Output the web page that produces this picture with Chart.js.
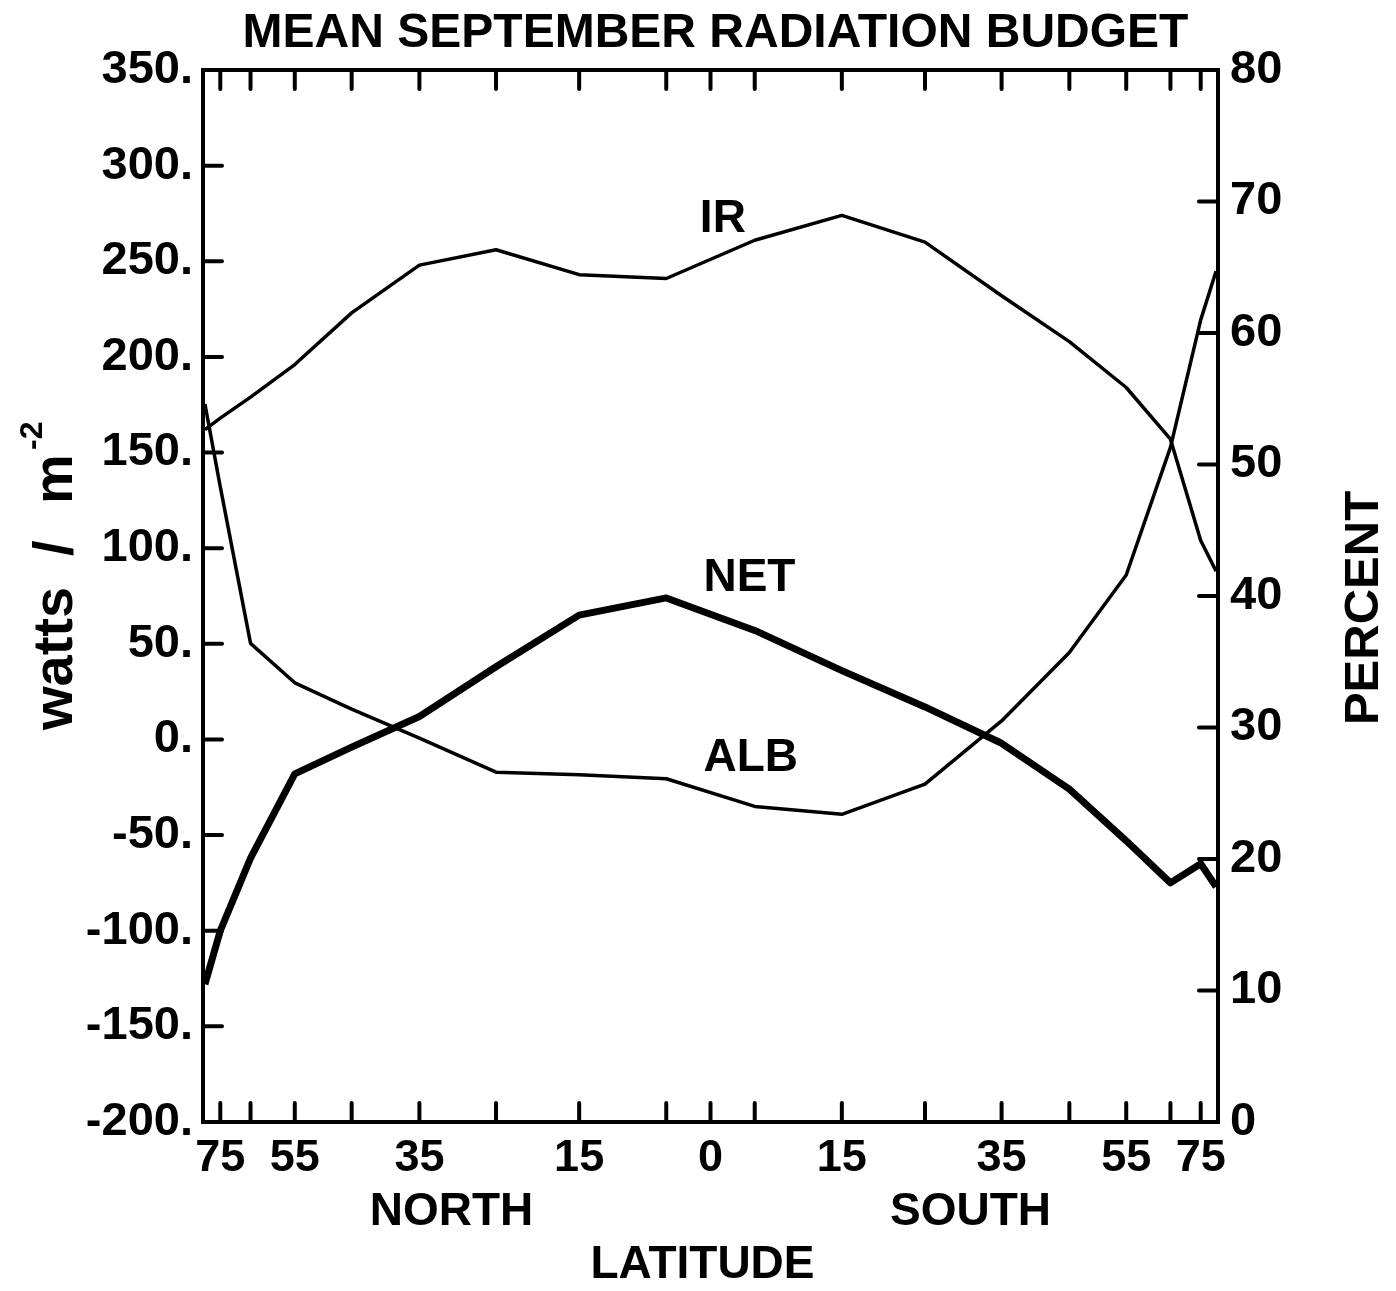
<!DOCTYPE html>
<html>
<head>
<meta charset="utf-8">
<title>Mean September Radiation Budget</title>
<script src="https://cdn.jsdelivr.net/npm/chart.js@4.4.1/dist/chart.umd.min.js"></script>
<style>
  html, body { margin: 0; padding: 0; background: #fff; }
  #chartBox { width: 1396px; height: 1291px; }
</style>
</head>
<body>
<div id="chartBox"><canvas id="radiationChart" width="1396" height="1291"></canvas></div>
<script>
const fontFamily = "'Liberation Sans', Arial, sans-serif";
const titleText = "MEAN SEPTEMBER RADIATION BUDGET";

// centres of the 10 degree latitude bands, north positive
const latitudes = [85, 75, 65, 55, 45, 35, 25, 15, 5, -5, -15, -25, -35, -45, -55, -65, -75, -85];
// outgoing infrared, watts / m^2 (left axis)
const irValues = [162, 168, 179, 196, 223, 248, 256, 243, 241, 261, 274, 260, 232, 208, 184, 157, 104, 88];
// net radiation, watts / m^2 (left axis)
const netValues = [-128, -100, -62, -18, -4, 12, 38, 65, 74, 57, 36, 17, -2, -26, -53, -75, -65, -77];
// albedo, percent (right axis)
const albedoValues = [54.6, 48.3, 36.4, 33.4, 31.4, 29.2, 26.6, 26.4, 26.1, 24.0, 23.4, 25.7, 30.5, 35.7, 41.6, 51.3, 61.0, 64.7];

const labeledLatitudes = [75, 55, 35, 15, 0, -15, -35, -55, -75];
const tickLatitudes = [75, 65, 55, 45, 35, 25, 15, 5, 0, -5, -15, -25, -35, -45, -55, -65, -75];
const wattTicks = [-150, -100, -50, 0, 50, 100, 150, 200, 250, 300];
const percentTicks = [10, 20, 30, 40, 50, 60, 70];

const curveLabels = [
  { text: "IR", lat: 1.2, watts: 272 },
  { text: "NET", lat: 0.8, watts: 84 },
  { text: "ALB", lat: 0.8, watts: -10 }
];

const tickLength = 19;

function toX(lat) {
  return Math.sin(lat * Math.PI / 180);
}

function buildPoints(values) {
  return latitudes.map((lat, index) => ({ x: toX(lat), y: values[index] }));
}

const radiationDecor = {
  id: "radiationDecor",
  afterDraw(chart) {
    const ctx = chart.ctx;
    const area = chart.chartArea;
    const xScale = chart.scales.x;
    const yScale = chart.scales.y;
    const percentScale = chart.scales.y2;
    const centerX = (area.left + area.right) / 2;

    ctx.save();
    ctx.strokeStyle = "#000";
    ctx.fillStyle = "#000";
    ctx.lineWidth = 4;
    ctx.lineCap = "round";
    ctx.strokeRect(area.left, area.top, area.right - area.left, area.bottom - area.top);

    ctx.beginPath();
    tickLatitudes.forEach((lat) => {
      const px = xScale.getPixelForValue(toX(lat));
      ctx.moveTo(px, area.top);
      ctx.lineTo(px, area.top + tickLength);
      ctx.moveTo(px, area.bottom);
      ctx.lineTo(px, area.bottom - tickLength);
    });
    wattTicks.forEach((value) => {
      const py = yScale.getPixelForValue(value);
      ctx.moveTo(area.left, py);
      ctx.lineTo(area.left + tickLength, py);
    });
    percentTicks.forEach((value) => {
      const py = percentScale.getPixelForValue(value);
      ctx.moveTo(area.right, py);
      ctx.lineTo(area.right - tickLength, py);
    });
    ctx.stroke();

    // title
    ctx.font = `bold 48px ${fontFamily}`;
    ctx.textAlign = "center";
    ctx.textBaseline = "alphabetic";
    ctx.fillText(titleText, centerX + 5, 47);

    // hemisphere and axis names
    ctx.font = `bold 46px ${fontFamily}`;
    ctx.fillText("NORTH", centerX - 259, 1225);
    ctx.fillText("SOUTH", centerX + 260, 1225);
    ctx.fillText("LATITUDE", centerX - 8, 1278);

    // curve names
    ctx.font = `bold 46px ${fontFamily}`;
    ctx.textAlign = "left";
    ctx.textBaseline = "middle";
    curveLabels.forEach((label) => {
      ctx.fillText(label.text, xScale.getPixelForValue(toX(label.lat)), yScale.getPixelForValue(label.watts));
    });

    // left axis title, reading upwards
    ctx.save();
    ctx.translate(72, 730);
    ctx.rotate(-Math.PI / 2);
    ctx.textAlign = "left";
    ctx.textBaseline = "alphabetic";
    ctx.font = `bold 56px ${fontFamily}`;
    ctx.fillText("watts", 0, 0);
    ctx.fillText("/", 174, 0);
    ctx.fillText("m", 226, 0);
    ctx.font = `bold 32px ${fontFamily}`;
    ctx.fillText("-2", 280, -30);
    ctx.restore();

    // right axis title, reading upwards
    ctx.save();
    ctx.translate(1378, 608);
    ctx.rotate(-Math.PI / 2);
    ctx.textAlign = "center";
    ctx.textBaseline = "alphabetic";
    ctx.font = `bold 49px ${fontFamily}`;
    ctx.fillText("PERCENT", 0, 0);
    ctx.restore();

    ctx.restore();
  }
};

const ctx = document.getElementById("radiationChart").getContext("2d");

new Chart(ctx, {
  type: "line",
  data: {
    datasets: [
      {
        label: "IR",
        data: buildPoints(irValues),
        yAxisID: "y",
        borderColor: "#000",
        borderWidth: 3.5,
        pointRadius: 0,
        tension: 0,
        borderJoinStyle: "round"
      },
      {
        label: "NET",
        data: buildPoints(netValues),
        yAxisID: "y",
        borderColor: "#000",
        borderWidth: 7,
        pointRadius: 0,
        tension: 0,
        borderJoinStyle: "round"
      },
      {
        label: "ALB",
        data: buildPoints(albedoValues),
        yAxisID: "y2",
        borderColor: "#000",
        borderWidth: 3.5,
        pointRadius: 0,
        tension: 0,
        borderJoinStyle: "round"
      }
    ]
  },
  options: {
    responsive: false,
    animation: false,
    layout: {
      padding: { top: 70, left: 0, right: 0, bottom: 0 }
    },
    plugins: {
      legend: { display: false },
      title: { display: false },
      tooltip: { enabled: false }
    },
    scales: {
      x: {
        type: "linear",
        min: -1,
        max: 1,
        reverse: true,
        grid: { display: false, drawTicks: false },
        border: { display: false },
        afterBuildTicks: function (scale) {
          scale.ticks = labeledLatitudes.map((lat) => ({ value: toX(lat) }));
        },
        afterFit: function (scale) {
          scale.height = 169;
        },
        ticks: {
          autoSkip: false,
          maxRotation: 0,
          padding: 10,
          color: "#000",
          font: { family: fontFamily, size: 45, weight: "bold" },
          callback: function (value) {
            return String(Math.abs(Math.round(Math.asin(value) * 180 / Math.PI)));
          }
        }
      },
      y: {
        type: "linear",
        position: "left",
        min: -200,
        max: 350,
        grid: { display: false, drawTicks: false },
        border: { display: false },
        afterFit: function (scale) {
          scale.width = 203;
        },
        ticks: {
          stepSize: 50,
          padding: 10,
          color: "#000",
          font: { family: fontFamily, size: 47, weight: "bold" },
          callback: function (value) {
            return `${value}.`;
          }
        }
      },
      y2: {
        type: "linear",
        position: "right",
        min: 0,
        max: 80,
        grid: { display: false, drawTicks: false },
        border: { display: false },
        afterFit: function (scale) {
          scale.width = 178;
        },
        ticks: {
          stepSize: 10,
          padding: 12,
          color: "#000",
          font: { family: fontFamily, size: 47, weight: "bold" }
        }
      }
    }
  },
  plugins: [radiationDecor]
});
</script>
</body>
</html>
